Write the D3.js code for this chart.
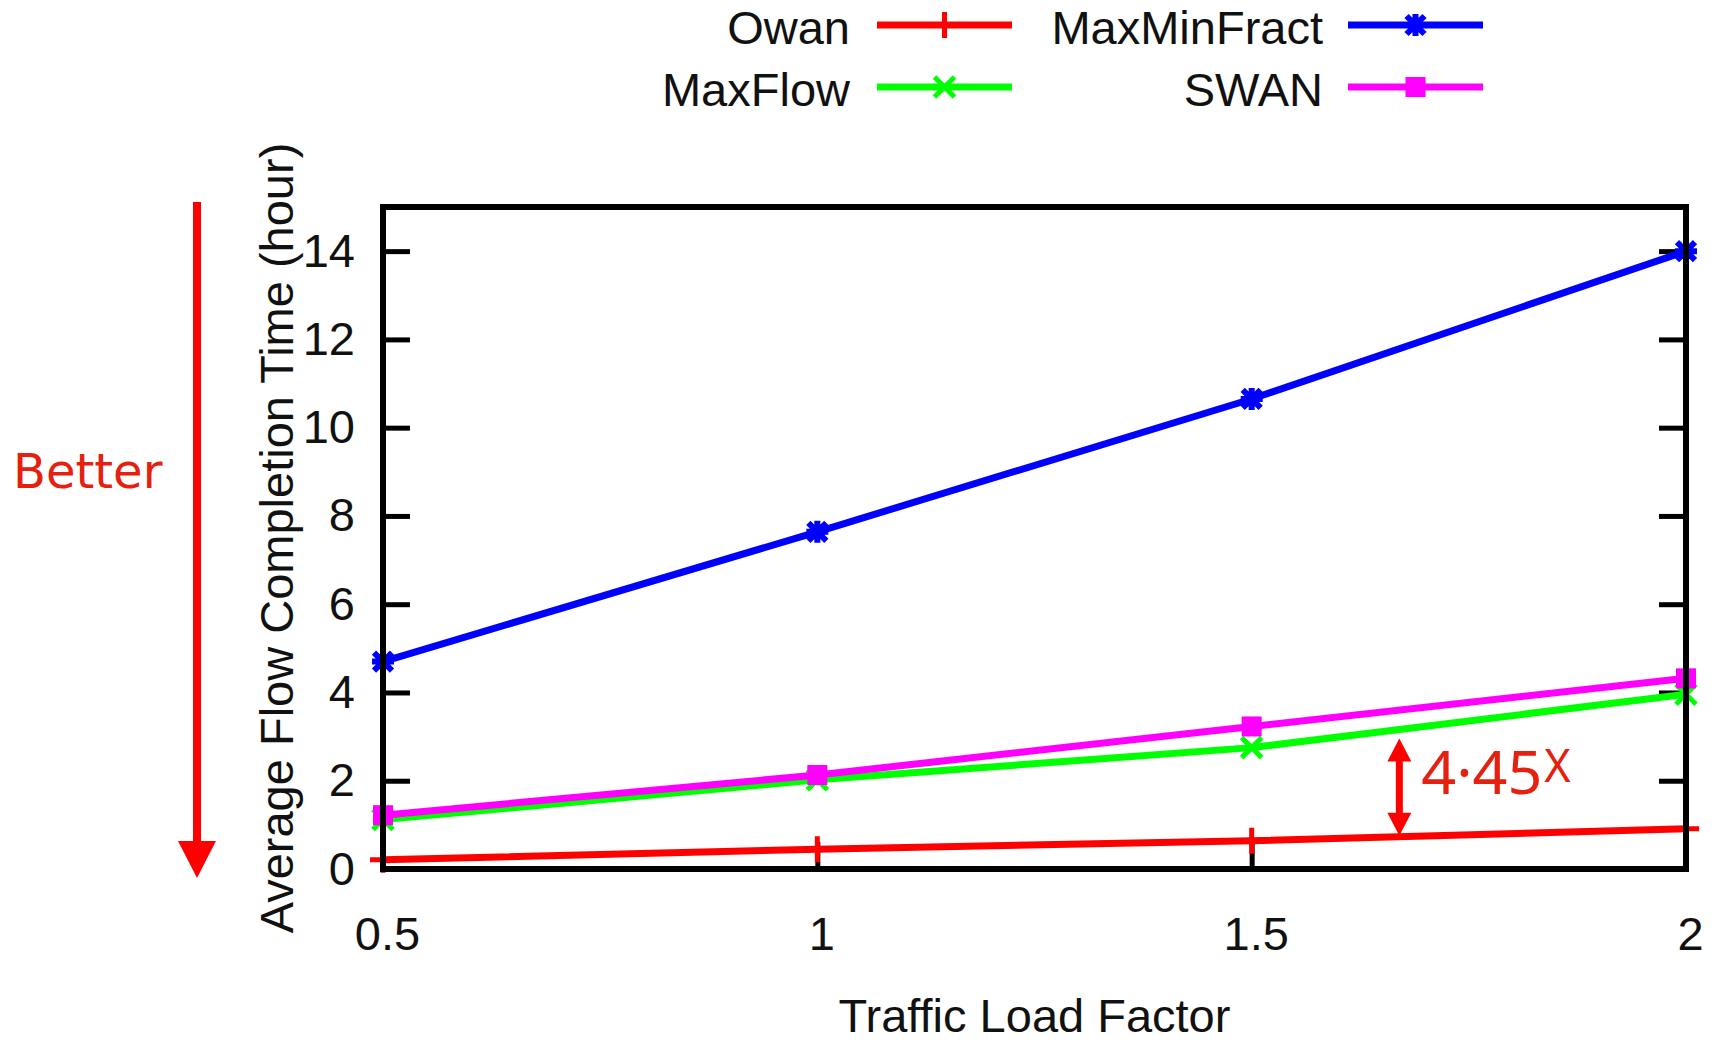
<!DOCTYPE html>
<html>
<head>
<meta charset="utf-8">
<script src="https://cdn.jsdelivr.net/npm/d3@7.9.0/dist/d3.min.js"></script>
<style>
  body { margin: 0; background: #fff; }
  svg { display: block; }
  text { font-family: "Liberation Sans", Arial, Helvetica, sans-serif; }
</style>
</head>
<body>
<svg width="1716" height="1044"></svg>
<script>
// traffic load factor on x, completion time (hours) on y
const loadFactors = [0.5, 1, 1.5, 2];
const owan = [0.21, 0.45, 0.64, 0.91];
const maxFlow = [1.12, 2.02, 2.75, 3.96];
const maxMinFract = [4.70, 7.64, 10.65, 14.0];
const swan = [1.22, 2.13, 3.23, 4.32];

const seriesNames = ['Owan', 'MaxFlow', 'MaxMinFract', 'SWAN'];
const seriesColors = ['#ff0000', '#00ff00', '#0000ff', '#ff00ff'];
const seriesMarkers = ['plus', 'cross', 'star', 'square'];
const seriesValues = [owan, maxFlow, maxMinFract, swan];

const xTicks = [0.5, 1, 1.5, 2];
const yTicks = [0, 2, 4, 6, 8, 10, 12, 14];

const gapLabel = '4·45X';
const gapAt = 1.67;

let svg = d3.select('svg');
let margin = { left: 383, right: 1686, top: 207, bottom: 869 };

let x = d3.scaleLinear().domain([0.5, 2]).range([margin.left, margin.right]);
let y = d3.scaleLinear().domain([0, 15]).range([margin.bottom, margin.top]);

// ticks (inward, drawn under the data)
let yAxis = svg.append('g')
    .attr('transform', `translate(${margin.left},0)`)
    .call(d3.axisLeft(y).tickValues(yTicks).tickSize(-27).tickPadding(28));
let yAxisRight = svg.append('g')
    .attr('transform', `translate(${margin.right},0)`)
    .call(d3.axisRight(y).tickValues(yTicks).tickSize(-27).tickFormat(''));
yAxisRight.selectAll('.tick text').remove();
let xAxis = svg.append('g')
    .attr('transform', `translate(0,${margin.bottom})`)
    .call(d3.axisBottom(x).tickValues(xTicks).tickSize(-27).tickPadding(48).tickFormat(d3.format('')));

[yAxis, yAxisRight, xAxis].forEach((g) => {
    g.select('.domain').remove();
    g.selectAll('.tick line').attr('stroke', '#000').attr('stroke-width', 5);
    g.selectAll('.tick text')
        .attr('fill', '#111')
        .style('font-size', '47px')
        .style('font-family', '"Liberation Sans", Arial, sans-serif');
});
xAxis.selectAll('.tick text').attr('x', 4);

function drawMarker(g, type, cx, cy, color) {
    if (type === 'square') {
        g.append('rect')
            .attr('x', cx - 10).attr('y', cy - 10)
            .attr('width', 20).attr('height', 20)
            .attr('fill', color);
        return;
    }
    let p = d3.path();
    if (type === 'plus' || type === 'star') {
        let h = type === 'plus' ? 13 : 11;
        p.moveTo(cx - h, cy); p.lineTo(cx + h, cy);
        p.moveTo(cx, cy - h); p.lineTo(cx, cy + h);
    }
    if (type === 'cross' || type === 'star') {
        let h = type === 'cross' ? 10 : 9;
        p.moveTo(cx - h, cy - h); p.lineTo(cx + h, cy + h);
        p.moveTo(cx - h, cy + h); p.lineTo(cx + h, cy - h);
    }
    g.append('path')
        .attr('d', p.toString())
        .attr('stroke', color)
        .attr('stroke-width', type === 'star' ? 6 : 5)
        .attr('fill', 'none');
}

let line = d3.line()
    .x((d) => x(d[0]))
    .y((d) => y(d[1]));

let dataLayer = svg.append('g');
seriesValues.forEach((values, idx) => {
    let pts = loadFactors.map((lf, i) => [lf, values[i]]);
    let g = dataLayer.append('g');
    g.append('path')
        .attr('d', line(pts))
        .attr('fill', 'none')
        .attr('stroke', seriesColors[idx])
        .attr('stroke-width', 7);
    pts.forEach((d) => drawMarker(g, seriesMarkers[idx], x(d[0]), y(d[1]), seriesColors[idx]));
});

// border on top
svg.append('rect')
    .attr('x', margin.left).attr('y', margin.top)
    .attr('width', margin.right - margin.left)
    .attr('height', margin.bottom - margin.top)
    .attr('fill', 'none')
    .attr('stroke', '#000')
    .attr('stroke-width', 6);

// axis titles
svg.append('text')
    .attr('transform', `translate(293,${(margin.top + margin.bottom) / 2}) rotate(-90)`)
    .attr('text-anchor', 'middle')
    .attr('fill', '#111')
    .style('font-size', '47px')
    .text('Average Flow Completion Time (hour)');

svg.append('text')
    .attr('x', (margin.left + margin.right) / 2)
    .attr('y', 1032)
    .attr('text-anchor', 'middle')
    .attr('fill', '#111')
    .style('font-size', '47px')
    .text('Traffic Load Factor');

// legend: two columns, filled top to bottom
let legend = svg.append('g');
seriesNames.forEach((name, idx) => {
    let col = Math.floor(idx / 2);
    let row = idx % 2;
    let textX = 850 + col * 473;
    let lineX0 = 877 + col * 471;
    let lineX1 = lineX0 + 135;
    let ly = 25 + row * 62;
    legend.append('text')
        .attr('x', textX)
        .attr('y', ly + 19)
        .attr('text-anchor', 'end')
        .attr('fill', '#111')
        .style('font-size', '47px')
        .text(name);
    legend.append('line')
        .attr('x1', lineX0).attr('x2', lineX1)
        .attr('y1', ly).attr('y2', ly)
        .attr('stroke', seriesColors[idx])
        .attr('stroke-width', 7);
    drawMarker(legend, seriesMarkers[idx], (lineX0 + lineX1) / 2, ly, seriesColors[idx]);
});

// "Better" arrow on the left
let annoRed = '#ff0000';
let textRed = '#e5200f';
let bx = 197;
let bTop = y(15) - 5;
let bTip = y(0) + 9;
svg.append('line')
    .attr('x1', bx).attr('x2', bx)
    .attr('y1', bTop).attr('y2', bTip - 34)
    .attr('stroke', annoRed)
    .attr('stroke-width', 8);
svg.append('path')
    .attr('d', `M${bx - 19},${bTip - 37}L${bx + 19},${bTip - 37}L${bx},${bTip}Z`)
    .attr('fill', annoRed);
svg.append('text')
    .attr('x', 13)
    .attr('y', 488)
    .attr('fill', textRed)
    .style('font-family', '"DejaVu Sans", Verdana, sans-serif')
    .style('font-size', '48px')
    .text('Better');

// gap arrow between Owan and MaxFlow
function interp(values, at) {
    let i = d3.bisectRight(loadFactors, at) - 1;
    let t = (at - loadFactors[i]) / (loadFactors[i + 1] - loadFactors[i]);
    return values[i] + t * (values[i + 1] - values[i]);
}
let gx = x(gapAt);
let gBottom = y(interp(owan, gapAt)) - 1;
let gTop = y(interp(maxFlow, gapAt)) + 9;
svg.append('line')
    .attr('x1', gx).attr('x2', gx)
    .attr('y1', gTop + 20).attr('y2', gBottom - 20)
    .attr('stroke', annoRed)
    .attr('stroke-width', 7);
svg.append('path')
    .attr('d', `M${gx},${gTop}L${gx + 12},${gTop + 23}L${gx - 12},${gTop + 23}Z`)
    .attr('fill', annoRed);
svg.append('path')
    .attr('d', `M${gx},${gBottom}L${gx + 12},${gBottom - 23}L${gx - 12},${gBottom - 23}Z`)
    .attr('fill', annoRed);

// ratio label, the trailing X set smaller and raised
let gapText = svg.append('text')
    .attr('x', gx + 22)
    .attr('y', 794)
    .attr('fill', textRed)
    .style('font-family', '"Noto Sans", "Open Sans", sans-serif');
gapText.append('tspan')
    .style('font-size', '61px')
    .text(gapLabel.slice(0, -1));
gapText.append('tspan')
    .attr('dx', 2)
    .attr('dy', -12)
    .style('font-size', '45px')
    .text(gapLabel.slice(-1));
</script>
</body>
</html>
